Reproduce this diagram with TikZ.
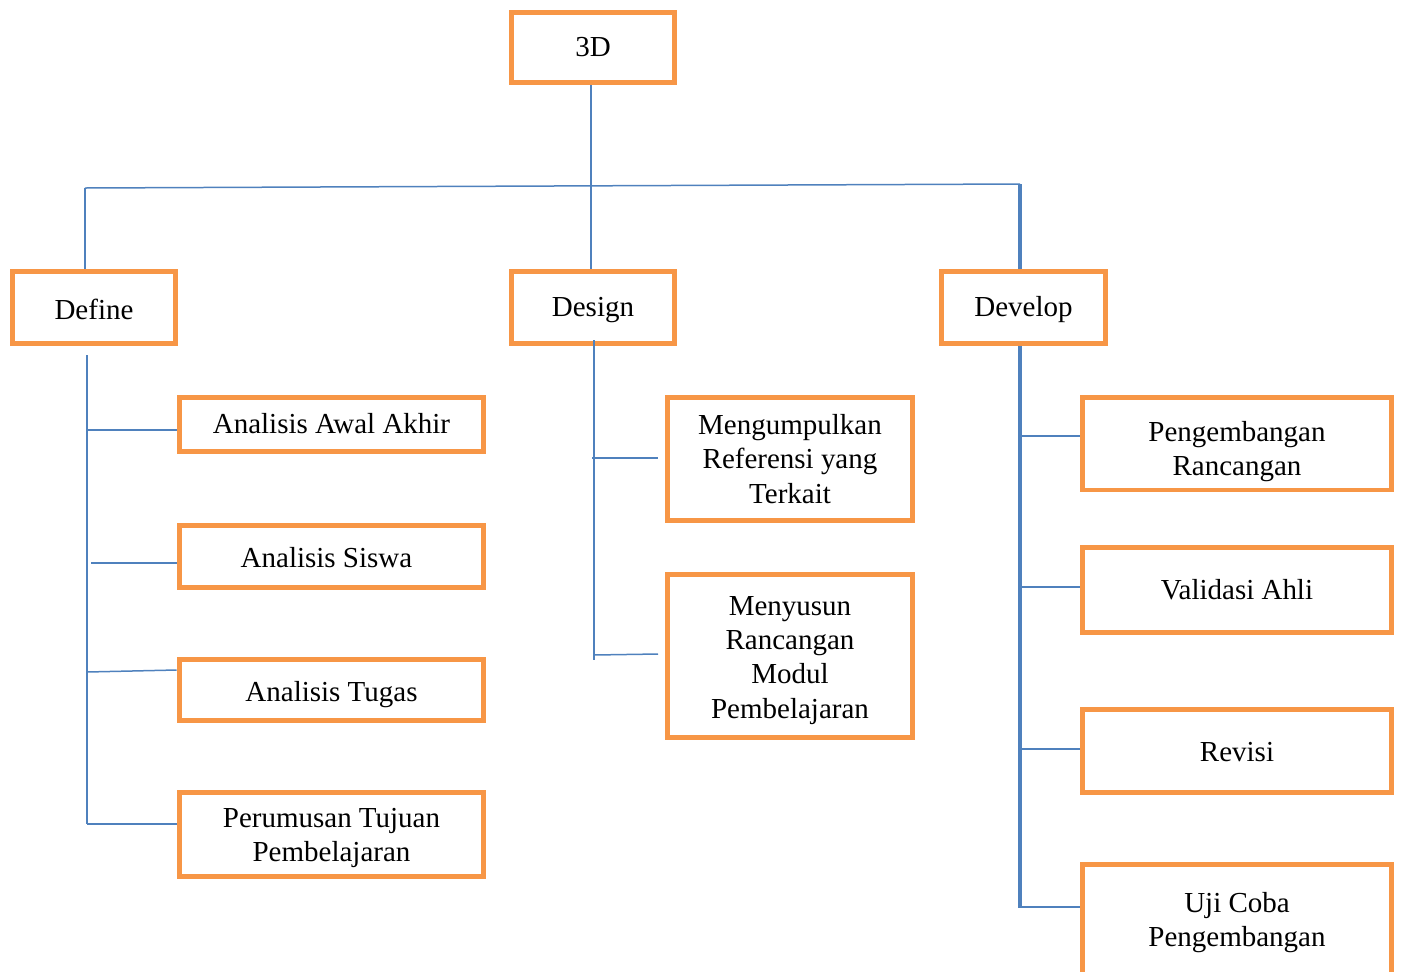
\documentclass[tikz,border=0pt]{standalone}
\usepackage{fontspec}
\setmainfont{Liberation Serif}
\definecolor{boxorange}{HTML}{F79646}
\definecolor{lineblue}{HTML}{4F81BD}
\newcommand{\lowered}[2]{\raisebox{-#1}[\height][\depth]{\begin{tabular}{@{}c@{}}#2\end{tabular}}}
\begin{document}
\begin{tikzpicture}[x=0.02cm, y=-0.02cm,
  box/.style={draw=boxorange, line width=0.1cm, inner sep=0pt, align=center,
    font=\fontsize{16.5}{19.5}\selectfont},
  link/.style={draw=lineblue, line width=0.03cm},
  thicklink/.style={draw=lineblue, line width=0.065cm}]
\useasboundingbox (0,0) rectangle (1404,971);
\clip (0,0) rectangle (1404,971);
\node[box, minimum width=3.28cm, minimum height=1.42cm] (root) at (593,47.5){3D};
\node[box, minimum width=3.28cm, minimum height=1.44cm] (define) at (94,307){\lowered{0.12cm}{Define}};
\node[box, minimum width=3.28cm, minimum height=1.44cm] (design) at (593,307){\lowered{0.06cm}{Design}};
\node[box, minimum width=3.3cm, minimum height=1.44cm] (develop) at (1023.5,307){\lowered{0.06cm}{Develop}};
% define
\node[box, minimum width=6.1cm, minimum height=1.08cm] (awal) at (331.5,424){Analisis Awal Akhir};
\node[box, minimum width=6.1cm, minimum height=1.24cm] (siswa) at (331.5,556){\hspace{-0.2cm}\lowered{0.1cm}{Analisis Siswa}};
\node[box, minimum width=6.1cm, minimum height=1.22cm] (tugas) at (331.5,689.5){\lowered{0.1cm}{Analisis Tugas}};
\node[box, minimum width=6.1cm, minimum height=1.68cm] (tujuan) at (331.5,834){\lowered{0.07cm}{Perumusan Tujuan\\Pembelajaran}};
% design
\node[box, minimum width=4.92cm, minimum height=2.48cm] (referensi) at (790,459){Mengumpulkan\\Referensi yang\\Terkait};
\node[box, minimum width=4.92cm, minimum height=3.28cm] (modul) at (790,656){\lowered{0.08cm}{Menyusun\\Rancangan\\Modul\\Pembelajaran}};
% develop
\node[box, minimum width=6.2cm, minimum height=1.86cm] (rancangan) at (1237,443.5){\lowered{0.16cm}{Pengembangan\\Rancangan}};
\node[box, minimum width=6.2cm, minimum height=1.7cm] (validasi) at (1237,589.5){Validasi Ahli};
\node[box, minimum width=6.2cm, minimum height=1.66cm] (revisi) at (1237,750.5){\lowered{0.08cm}{Revisi}};
\node[box, minimum width=6.2cm, minimum height=2.28cm] (ujicoba) at (1237,921){\lowered{0.04cm}{Uji Coba\\Pengembangan}};

\coordinate (hleft) at (85,188);
\coordinate (hmid) at (591,186);
\coordinate (hright) at (1020,184);
\draw[link] (root.south -| hmid) -- (hmid) -- (design.north -| hmid);
\draw[link] (hleft) -- (hright);
\draw[link] (hleft) -- (define.north -| hleft);
\draw[thicklink] (hright) -- (develop.north -| hright);

\coordinate (dtop) at (87,355);
\coordinate (dbot) at (87,824);
\coordinate (d1) at (87,430);
\coordinate (d2) at (91,563);
\coordinate (d3) at (87,672);
\coordinate (d4) at (87,824);
\draw[link] (dtop) -- (dbot);
\draw[link] (d1) -- (d1 -| awal.west);
\draw[link] (d2) -- (d2 -| siswa.west);
\draw[link] (d3) -- (tugas.west |- 0,670);
\draw[link] (d4) -- (d4 -| tujuan.west);

\coordinate (stop) at (594,340);
\coordinate (sbot) at (594,660);
\coordinate (s1) at (592,458);
\coordinate (s2) at (594,655);
\draw[link] (stop) -- (sbot);
\draw[link] (s1) -- (658,458);
\draw[link] (s2) -- (658,654);

\coordinate (vbot) at (1020,908);
\coordinate (v1) at (1020,436);
\coordinate (v2) at (1020,587);
\coordinate (v3) at (1020,749);
\coordinate (v4) at (1020,907);
\draw[thicklink] (develop.south -| vbot) -- (vbot);
\draw[link, line width=0.05cm] (v1) -- (v1 -| rancangan.west);
\draw[link, line width=0.05cm] (v2) -- (v2 -| validasi.west);
\draw[link, line width=0.05cm] (v3) -- (v3 -| revisi.west);
\draw[link, line width=0.05cm] (v4) -- (v4 -| ujicoba.west);

\end{tikzpicture}
\end{document}
